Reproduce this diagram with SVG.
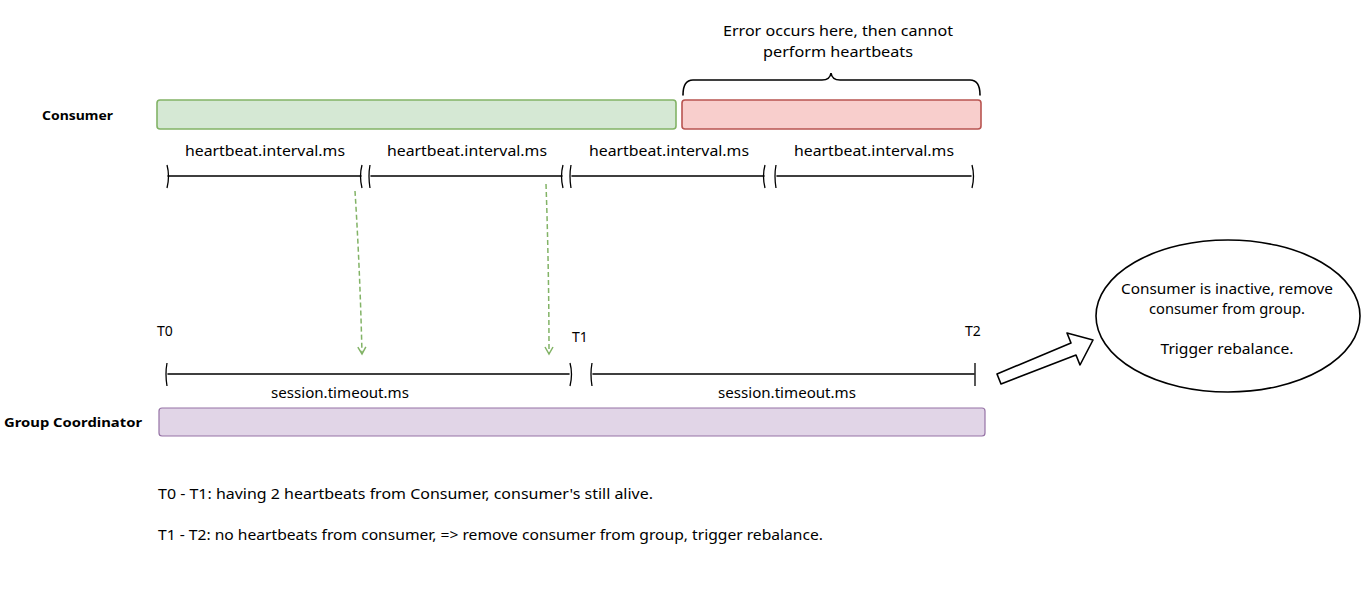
<svg xmlns="http://www.w3.org/2000/svg" width="1371" height="598" viewBox="0 0 1371 598">
<style>
text{font-family:"Noto Sans","Liberation Sans",sans-serif;font-size:14px;fill:#000}
.b{font-weight:bold;font-size:13px}
.ln{stroke:#000;stroke-width:1.6;fill:none;stroke-linecap:round}
.tk{stroke:#000;stroke-width:1.3;fill:none}
.gd{stroke:#82b366;stroke-width:1.5;fill:none;stroke-dasharray:5 3}
</style>
<defs>
<marker id="ah" viewBox="0 0 10 10" refX="8" refY="5" markerWidth="10" markerHeight="10" orient="auto" markerUnits="userSpaceOnUse">
<path d="M1 1 L8 5 L1 9" fill="none" stroke="#82b366" stroke-width="1.5"/>
</marker>
</defs>
<rect width="1371" height="598" fill="#fff"/>

<g id="consumer-label"><text class="b" x="42" y="120" textLength="71" lengthAdjust="spacingAndGlyphs">Consumer</text></g>
<g id="consumer-ok"><rect x="157" y="100" width="519" height="29" rx="3" fill="#d5e8d4" stroke="#82b366" stroke-width="1.6"/></g>
<g id="consumer-err"><rect x="682" y="100" width="299" height="29" rx="3" fill="#f8cecc" stroke="#b85450" stroke-width="1.6"/></g>
<g id="error-note">
<text x="838" y="36" text-anchor="middle" textLength="230" lengthAdjust="spacingAndGlyphs">Error occurs here, then cannot</text>
<text x="838" y="57" text-anchor="middle" textLength="150" lengthAdjust="spacingAndGlyphs">perform heartbeats</text>
<path class="ln" d="M683 95 Q683 80 693 80 L822 80 Q830 80 831 73 Q832 80 840 80 L970 80 Q980 80 980 95"/>
</g>

<g id="intervals">
<text x="265" y="156" text-anchor="middle" textLength="160" lengthAdjust="spacingAndGlyphs">heartbeat.interval.ms</text>
<text x="467" y="156" text-anchor="middle" textLength="160" lengthAdjust="spacingAndGlyphs">heartbeat.interval.ms</text>
<text x="669" y="156" text-anchor="middle" textLength="160" lengthAdjust="spacingAndGlyphs">heartbeat.interval.ms</text>
<text x="874" y="156" text-anchor="middle" textLength="160" lengthAdjust="spacingAndGlyphs">heartbeat.interval.ms</text>
<path class="ln" d="M168 176 L361 176 M371 176 L562 176 M572 176 L764 176 M777 176 L971 176"/>
<path class="tk" d="M167 165 Q170 176 167 188 M362 165 Q359 176 362 188 M370 165 Q368 176 370 188 M563 165 Q560 176 563 188 M571 165 Q569 176 571 188 M765 165 Q762 176 765 188 M776 165 Q774 176 776 188 M972 165 Q975 176 972 188"/>
</g>

<g id="heartbeat-arrows">
<path class="gd" d="M355 191 Q360 270 362 354" marker-end="url(#ah)"/>
<path class="gd" d="M546 184 Q549 270 549 354" marker-end="url(#ah)"/>
</g>

<g id="timeline">
<text x="157" y="336">T0</text>
<text x="572" y="342">T1</text>
<text x="965" y="336">T2</text>
<path class="ln" d="M168 374 L569 374 M593 374 L974 374"/>
<path class="tk" d="M167 363 Q165 374 167 386 M570 363 Q573 374 570 386 M592 363 Q590 374 592 386 M975 363 L975 386"/>
<text x="340" y="398" text-anchor="middle" textLength="138" lengthAdjust="spacingAndGlyphs">session.timeout.ms</text>
<text x="787" y="398" text-anchor="middle" textLength="138" lengthAdjust="spacingAndGlyphs">session.timeout.ms</text>
</g>

<g id="coordinator-label"><text class="b" x="4" y="427" textLength="138" lengthAdjust="spacingAndGlyphs">Group Coordinator</text></g>
<g id="coordinator"><rect x="159" y="408" width="826" height="28" rx="3" fill="#e1d5e7" stroke="#9673a6" stroke-width="1.2"/></g>

<g id="block-arrow">
<path d="M997 374 L1071 343 L1067 333 L1093 340 L1080 365 L1076 355 L1001 384 Z" fill="#fff" stroke="#000" stroke-width="1.6" stroke-linejoin="round"/>
</g>

<g id="result">
<ellipse cx="1228" cy="316" rx="132" ry="76" fill="#fff" stroke="#000" stroke-width="1.6"/>
<text x="1227" y="294" text-anchor="middle" textLength="212" lengthAdjust="spacingAndGlyphs">Consumer is inactive, remove</text>
<text x="1227" y="314" text-anchor="middle" textLength="156" lengthAdjust="spacingAndGlyphs">consumer from group.</text>
<text x="1227" y="354" text-anchor="middle" textLength="133" lengthAdjust="spacingAndGlyphs">Trigger rebalance.</text>
</g>

<g id="notes">
<text x="158" y="499" textLength="495" lengthAdjust="spacingAndGlyphs">T0 - T1: having 2 heartbeats from Consumer, consumer's still alive.</text>
<text x="158" y="540" textLength="665" lengthAdjust="spacingAndGlyphs">T1 - T2: no heartbeats from consumer, =&gt; remove consumer from group, trigger rebalance.</text>
</g>
</svg>
